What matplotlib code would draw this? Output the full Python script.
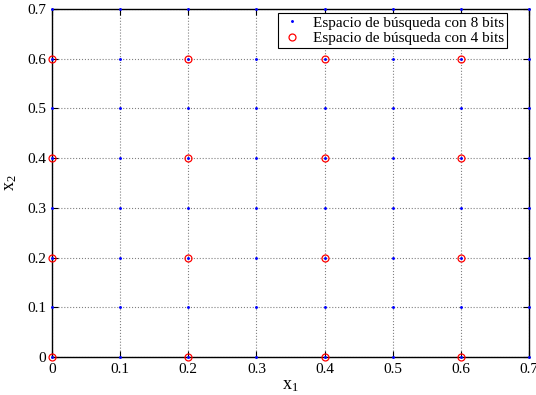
import matplotlib
matplotlib.use("Agg")
import matplotlib.pyplot as plt

# search-space grids
x8 = [0.0, 0.1, 0.2, 0.3, 0.4, 0.5, 0.6, 0.7]
y8 = [0.0, 0.1, 0.2, 0.3, 0.4, 0.5, 0.6, 0.7]
x4 = [0.0, 0.2, 0.4, 0.6]
y4 = [0.0, 0.2, 0.4, 0.6]
ticks = [0, 0.1, 0.2, 0.3, 0.4, 0.5, 0.6, 0.7]
tick_labels = ["0", "0.1", "0.2", "0.3", "0.4", "0.5", "0.6", "0.7"]

plt.rcParams["font.family"] = ["Liberation Serif", "DejaVu Serif"]
plt.rcParams["mathtext.fontset"] = "custom"
plt.rcParams["mathtext.rm"] = "Liberation Serif"
plt.rcParams["mathtext.it"] = "Liberation Serif"

fig = plt.figure(figsize=(5.36, 3.95), dpi=100)
ax = fig.add_axes([52 / 536, 1 - 357 / 395, (529 - 52) / 536, (357 - 9) / 395])

# build the point grids
px8 = [x for x in x8 for y in y8]
py8 = [y for x in x8 for y in y8]
px4 = [x for x in x4 for y in y4]
py4 = [y for x in x4 for y in y4]

ax.plot(px8, py8, ".", color="blue", markersize=2.2, clip_on=False, zorder=3,
        label="Espacio de búsqueda con 8 bits")
ax.plot(px4, py4, "o", markerfacecolor="none", markeredgecolor="red", markersize=5,
        markeredgewidth=0.9, clip_on=False, zorder=4,
        label="Espacio de búsqueda con 4 bits")

ax.set_xlim(0, 0.7)
ax.set_ylim(0, 0.7)
ax.set_xticks(ticks)
ax.set_xticklabels(tick_labels)
ax.set_yticks(ticks)
ax.set_yticklabels(tick_labels)
ax.tick_params(direction="in", top=True, right=True, labelsize=11, length=4, pad=4)
ax.grid(True, linestyle=":", color="gray", linewidth=0.8)
for s in ax.spines.values():
    s.set_linewidth(1.0)

ax.set_xlabel(r"x$_1$", fontsize=13, labelpad=1)
ax.set_ylabel(r"x$_2$", fontsize=13, labelpad=6)

leg = ax.legend(loc="upper right", bbox_to_anchor=(507 / 536, 1 - 13 / 395),
                bbox_transform=fig.transFigure, fontsize=11, fancybox=False,
                edgecolor="black", framealpha=1, borderpad=0.2, handlelength=1.5,
                handletextpad=0.6, labelspacing=0.1, borderaxespad=0)
leg.get_frame().set_linewidth(0.8)

fig.savefig("out.png", dpi=100)
